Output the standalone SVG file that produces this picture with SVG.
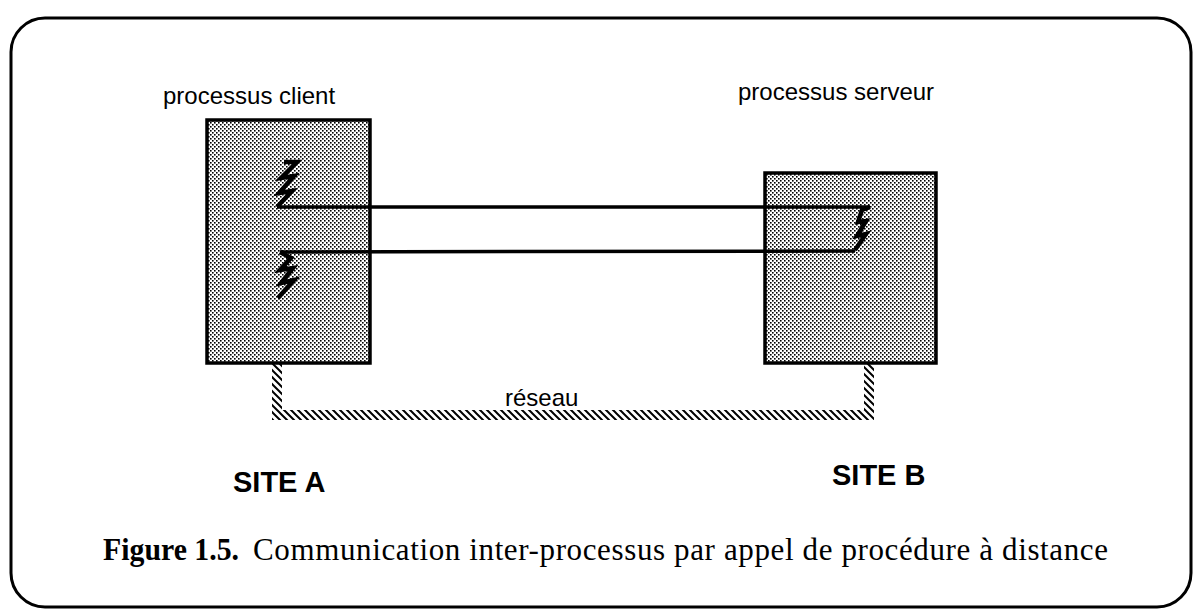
<svg xmlns="http://www.w3.org/2000/svg" width="1196" height="611" viewBox="0 0 1196 611">
<style>
.lbl{font-family:"Liberation Sans",Arial,sans-serif;font-size:24px;fill:#000}
.site{font-family:"Liberation Sans",Arial,sans-serif;font-size:29px;font-weight:bold;fill:#000}
.cap{font-family:"Liberation Serif","Times New Roman",serif;font-size:31px;fill:#000}
.box{fill:url(#dots);stroke:#000;stroke-width:3.5}
.wire{fill:none;stroke:#000;stroke-width:3.5;stroke-linejoin:miter}
.bolt{fill:none;stroke:#000;stroke-width:4.5;stroke-linejoin:miter}
.net{fill:none;stroke:url(#hatch);stroke-width:10}
</style>
<defs>
<pattern id="dots" width="4" height="4" patternUnits="userSpaceOnUse">
<rect width="4" height="4" fill="#fff"/>
<rect x="0" y="0" width="1.6" height="1.6" fill="#000"/>
<rect x="2" y="2" width="1.6" height="1.6" fill="#000"/>
</pattern>
<pattern id="hatch" width="7" height="7" patternUnits="userSpaceOnUse">
<path d="M-1.75,-1.75 L8.75,8.75 M-1.75,5.25 L1.75,8.75 M5.25,-1.75 L8.75,1.75" stroke="#000" stroke-width="2"/>
</pattern>
</defs>
<rect id="frame" x="11" y="18" width="1180" height="589" rx="34" ry="34" fill="none" stroke="#000" stroke-width="3"/>
<g id="client">
<text class="lbl" x="163" y="104">processus client</text>
<rect class="box" x="207" y="120" width="163" height="243"/>
</g>
<g id="serveur">
<text class="lbl" x="738" y="100">processus serveur</text>
<rect class="box" x="765" y="173" width="171" height="190"/>
</g>
<g id="connectors">
<polyline class="bolt" points="284,162 297,162 281,178 294,176 279,193 292,191 277,207"/>
<polyline class="wire" points="277,207 870,207"/>
<polyline class="bolt" points="870,207 862,210 858,222 866,221 857,236 866,234 855,250"/>
<polyline class="wire" points="855,251 280,252"/>
<polyline class="bolt" points="280,252 291,258 280,270 293,268 281,283 294,280 278,298"/>
<path class="net" d="M277,363 L277,415 L869,415 L869,363"/>
</g>
<g id="reseau-label">
<text class="lbl" x="505" y="406">réseau</text>
</g>
<g id="sites">
<text class="site" x="233" y="492">SITE A</text>
<text class="site" x="832" y="485">SITE B</text>
</g>
<g id="caption">
<text class="cap" x="103" y="560" font-weight="bold" textLength="136" lengthAdjust="spacingAndGlyphs">Figure 1.5.</text>
<text class="cap" x="253" y="560" textLength="855" lengthAdjust="spacing">Communication inter-processus par appel de procédure à distance</text>
</g>
</svg>
